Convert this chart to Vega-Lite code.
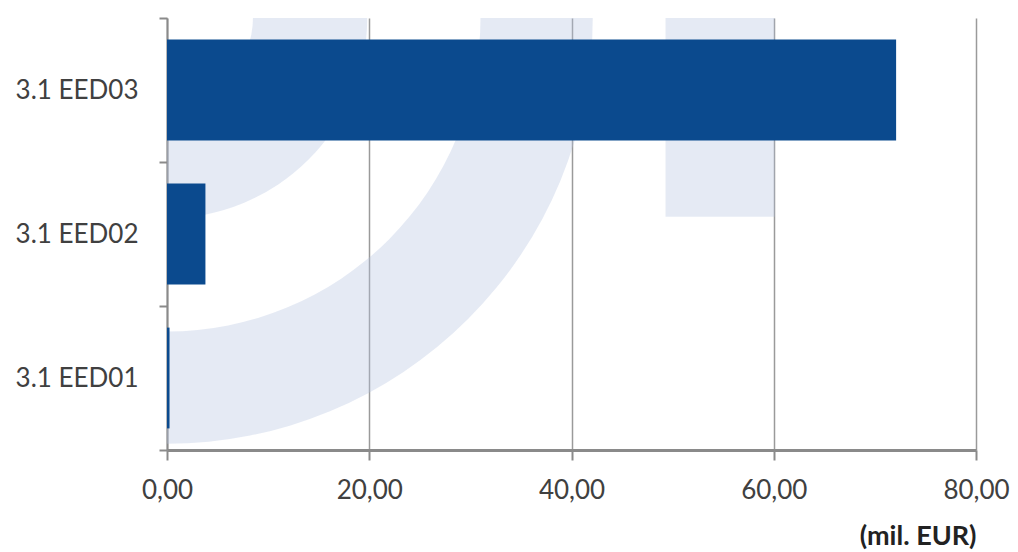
{
  "$schema": "https://vega.github.io/schema/vega-lite/v6.json",
  "width": 809,
  "height": 432,
  "autosize": "none",
  "padding": {"left": 167, "top": 18, "right": 42, "bottom": 102},
  "background": "white",
  "config": {
    "view": {"stroke": null},
    "font": "Lato",
    "axisX": {
      "grid": true,
      "gridColor": "#9a9a9a",
      "gridWidth": 1.5,
      "domainColor": "#8a8a8a",
      "domainWidth": 3,
      "tickColor": "#8a8a8a",
      "tickWidth": 2,
      "tickSize": 10,
      "labelFont": "Lato",
      "labelFontSize": 26,
      "labelColor": "#404040",
      "labelPadding": 17,
      "labelOverlap": false,
      "labelFlush": false,
      "titleFont": "Lato",
      "titleFontSize": 27,
      "titleFontWeight": "bold",
      "titleColor": "#222222",
      "titleAnchor": "end",
      "titlePadding": 20
    },
    "axisY": {
      "grid": false,
      "domainColor": "#8a8a8a",
      "domainWidth": 2,
      "tickColor": "#8a8a8a",
      "tickWidth": 2,
      "tickSize": 8,
      "tickBand": "extent",
      "labelFont": "Lato",
      "labelFontSize": 26,
      "labelColor": "#404040",
      "labelPadding": 21
    }
  },
  "datasets": {
    "bars": [
      {"category": "3.1 EED03", "value": 72.1},
      {"category": "3.1 EED02", "value": 3.8},
      {"category": "3.1 EED01", "value": 0.25}
    ],
    "arcs": [
      {"inner": 8.5, "outer": 19.8},
      {"inner": 31.0, "outer": 42.1}
    ],
    "rects": [
      {"x1": 49.3, "x2": 60.1, "y1": 1, "y2": 0.54}
    ]
  },
  "layer": [
    {
      "data": {"name": "rects"},
      "mark": {"type": "rect", "color": "#B5C3E0", "opacity": 0.35, "clip": true},
      "encoding": {
        "x": {"field": "x1", "type": "quantitative", "title": "(mil. EUR)", "scale": {"domain": [0, 80], "nice": false},
          "axis": {"labelExpr": "replace(format(datum.value, '.2f'), '.', ',')", "values": [0, 20, 40, 60, 80]}},
        "x2": {"field": "x2"},
        "y": {"field": "y1", "type": "quantitative", "scale": {"domain": [0, 1]}, "axis": null},
        "y2": {"field": "y2"}
      }
    },
    {
      "data": {"name": "arcs"},
      "mark": {"type": "arc", "theta": 1.5708, "theta2": 3.1416, "color": "#B5C3E0", "opacity": 0.35, "clip": true},
      "encoding": {
        "x": {"datum": 0, "type": "quantitative", "title": "(mil. EUR)", "scale": {"domain": [0, 80], "nice": false},
          "axis": {"labelExpr": "replace(format(datum.value, '.2f'), '.', ',')", "values": [0, 20, 40, 60, 80]}},
        "y": {"datum": 1, "type": "quantitative", "scale": {"domain": [0, 1]}, "axis": null},
        "radius": {"field": "outer", "type": "quantitative", "scale": {"type": "linear", "domain": [0, 80], "range": [0, {"expr": "width"}]}},
        "radius2": {"field": "inner"}
      }
    },
    {
      "data": {"name": "bars"},
      "mark": {"type": "bar", "color": "#0B4A8E", "height": {"band": 0.7}},
      "encoding": {
        "y": {
          "field": "category",
          "type": "nominal",
          "sort": ["3.1 EED03", "3.1 EED02", "3.1 EED01"],
          "scale": {"paddingInner": 0, "paddingOuter": 0},
          "title": null
        },
        "x": {"field": "value", "type": "quantitative", "title": "(mil. EUR)", "scale": {"domain": [0, 80], "nice": false},
          "axis": {"labelExpr": "replace(format(datum.value, '.2f'), '.', ',')", "values": [0, 20, 40, 60, 80]}}
      }
    }
  ],
  "resolve": {"scale": {"y": "independent"}}
}
